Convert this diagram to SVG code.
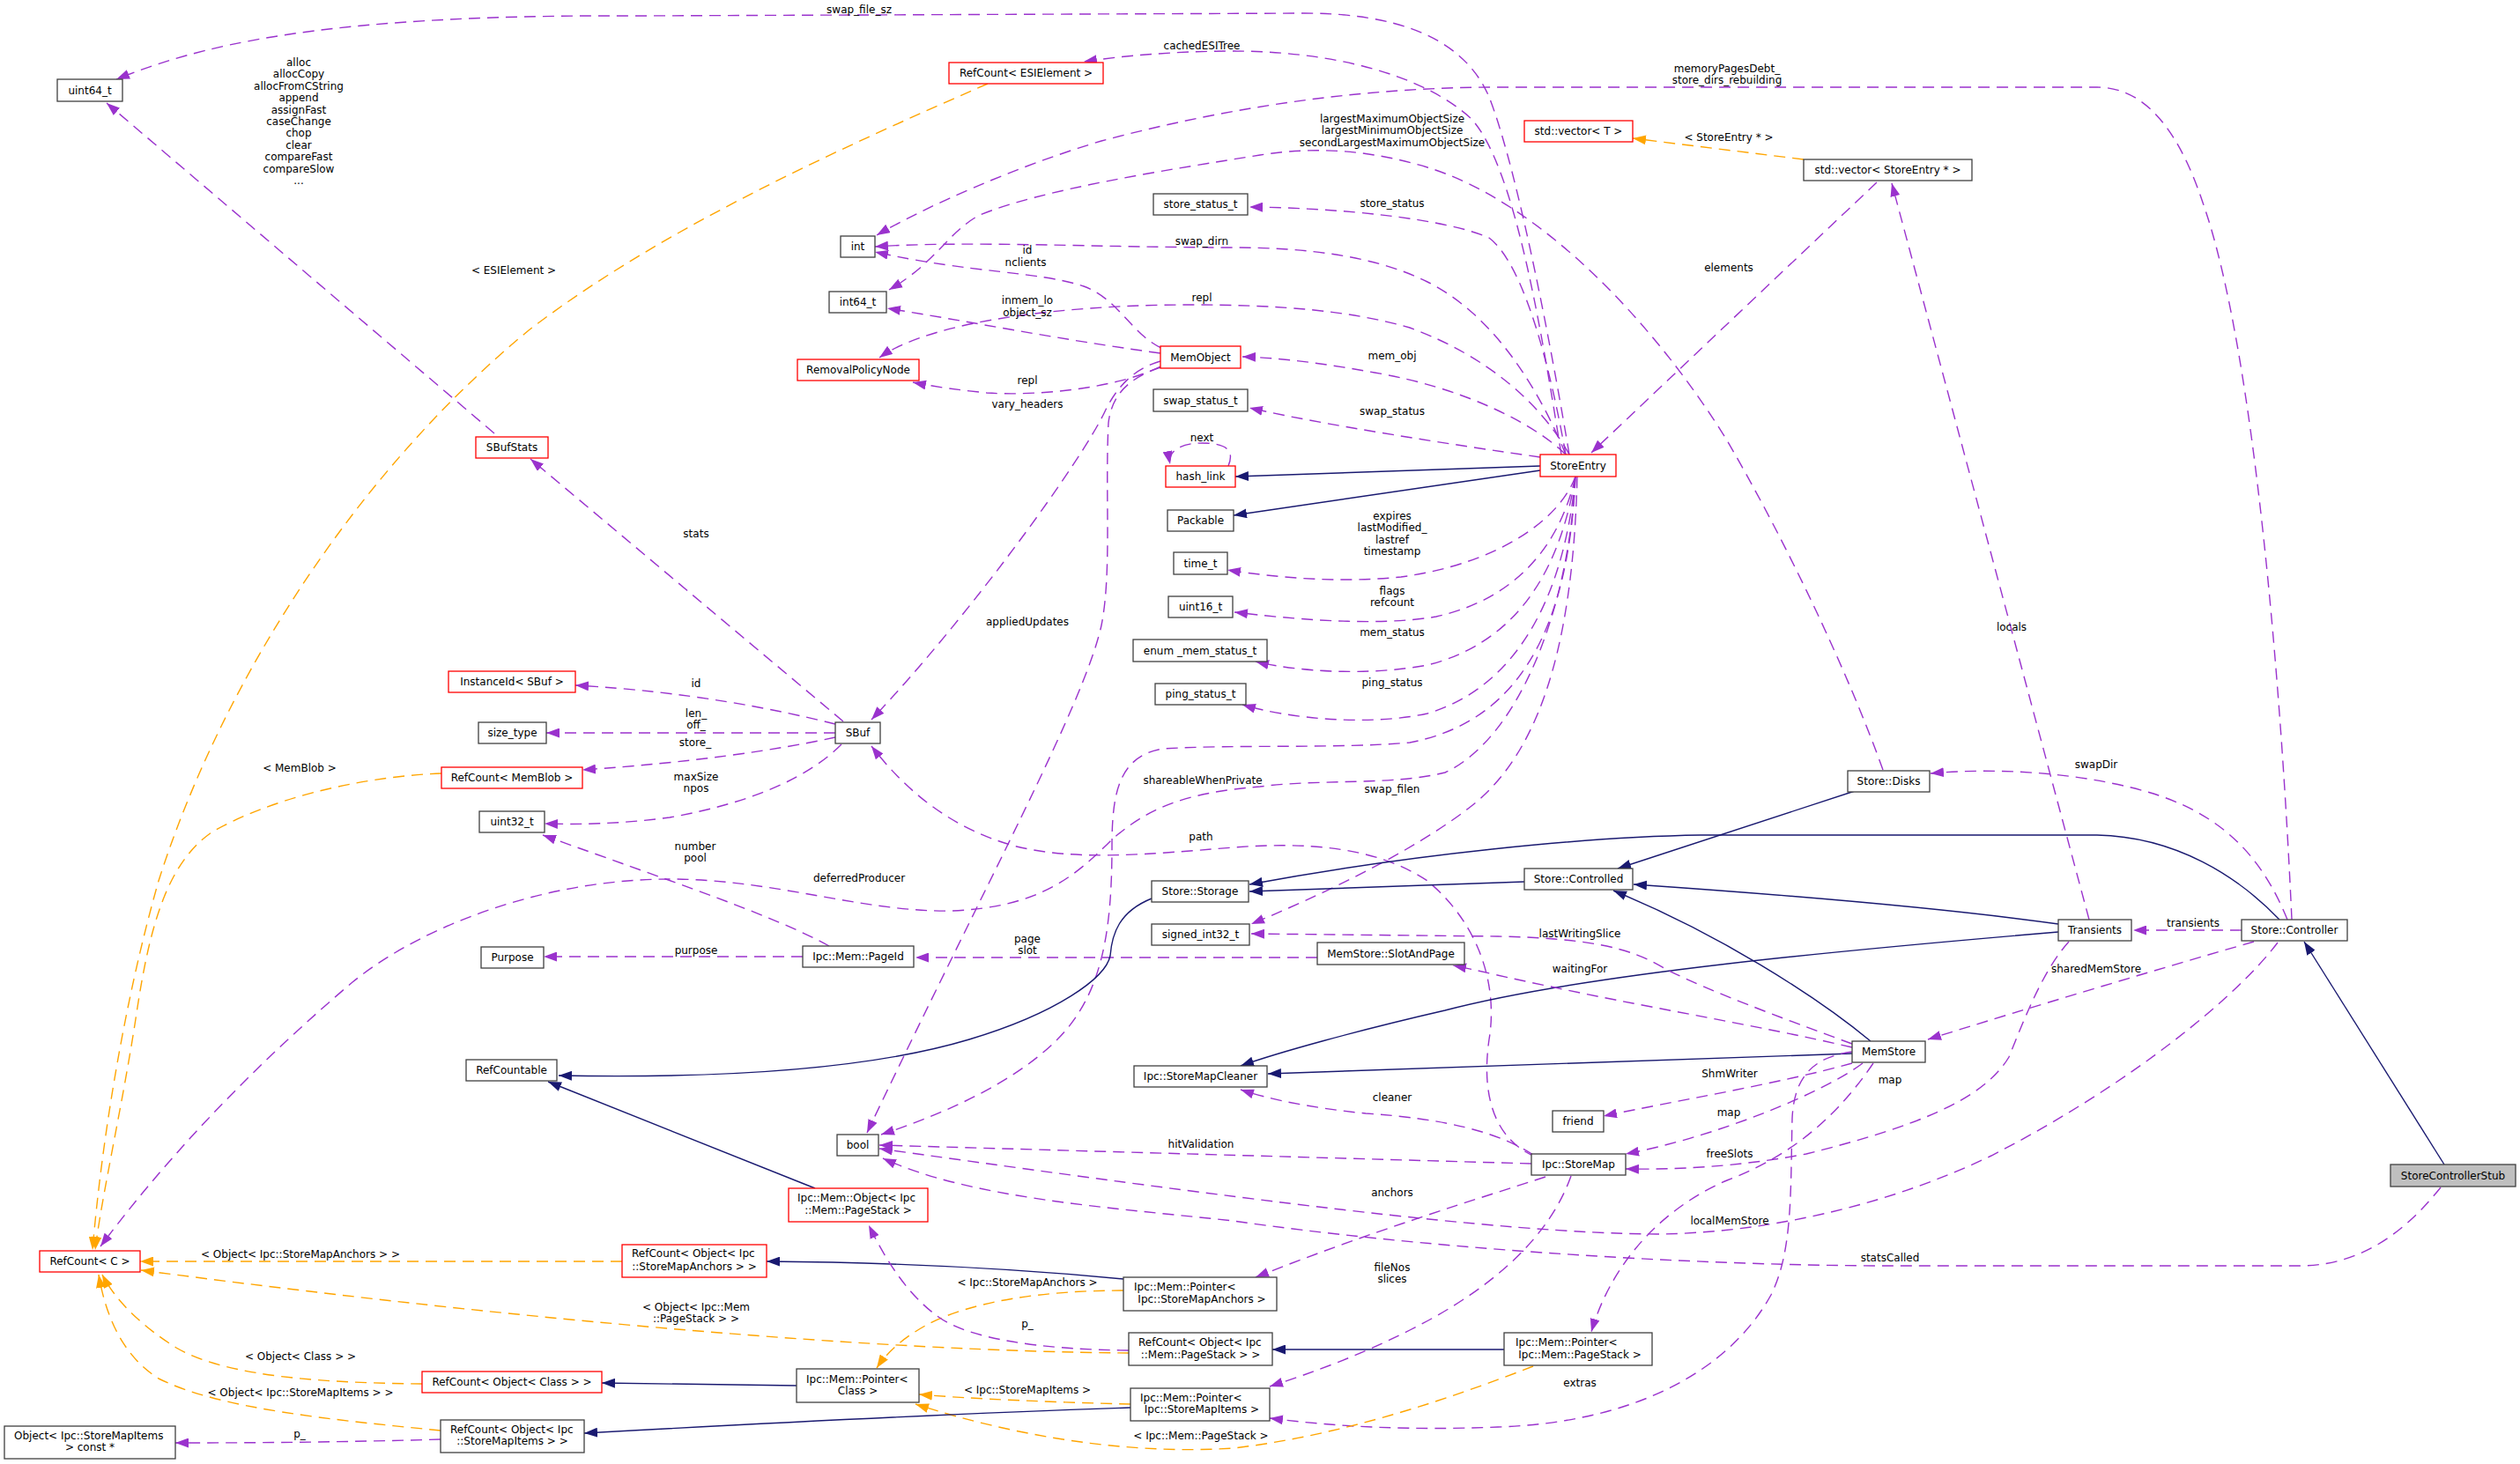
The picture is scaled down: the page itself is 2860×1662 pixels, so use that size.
<svg xmlns="http://www.w3.org/2000/svg" width="2860" height="1662" viewBox="0 0 2860 1662">
<defs>
<style>
text{font-family:"DejaVu Sans","Liberation Sans",sans-serif;font-size:12px;fill:#000}
.c{text-anchor:middle}
.n rect{fill:#fff;stroke:#404040;stroke-width:1.3}
.n.r rect{stroke:#ff0000}
.n.s rect{fill:#bfbfbf}
.e path{fill:none;stroke-width:1.4}
.e .u{stroke:#9a32cd;stroke-dasharray:13,8;marker-end:url(#ap)}
.e .t{stroke:#ffa500;stroke-dasharray:13,8;marker-end:url(#ao)}
.e .i{stroke:#191970;marker-end:url(#an)}
</style>
<marker id="ap" viewBox="0 0 15 11" refX="15" refY="5.5" markerWidth="15" markerHeight="11" markerUnits="userSpaceOnUse" orient="auto"><path d="M0,0 L15,5.5 L0,11 z" fill="#9a32cd"/></marker>
<marker id="ao" viewBox="0 0 15 11" refX="15" refY="5.5" markerWidth="15" markerHeight="11" markerUnits="userSpaceOnUse" orient="auto"><path d="M0,0 L15,5.5 L0,11 z" fill="#ffa500"/></marker>
<marker id="an" viewBox="0 0 15 11" refX="15" refY="5.5" markerWidth="15" markerHeight="11" markerUnits="userSpaceOnUse" orient="auto"><path d="M0,0 L15,5.5 L0,11 z" fill="#191970"/></marker>
</defs>
<rect width="2860" height="1662" fill="#fff"/>
<g id="connectors" class="e">
<!-- StoreEntry uses -->
<path class="u" d="M1781,516 C1765,420 1725,200 1690,110 C1660,40 1580,15 1480,15 L720,18 C350,16 220,55 132,90"/>
<path class="u" d="M1772,516 C1750,380 1720,190 1670,135 C1610,80 1500,58 1400,58 C1330,58 1270,64 1230,70"/>
<path class="u" d="M2601,1044 C2590,800 2560,400 2500,230 C2470,140 2430,99 2380,99 L1700,99 C1550,99 1400,120 1250,160 C1150,190 1050,235 995,267"/>
<path class="u" d="M2137,874 C2100,770 2030,620 1960,500 C1880,370 1750,230 1620,190 C1560,172 1500,165 1430,176 C1330,192 1180,215 1110,245 C1075,265 1060,300 1009,329"/>
<path class="u" d="M1777,516 C1750,450 1700,360 1620,320 C1560,290 1480,281 1400,281 C1250,281 1100,273 993,280"/>
<path class="u" d="M1777,516 C1760,420 1730,300 1690,270 C1640,248 1520,236 1418,235"/>
<path class="u" d="M1777,516 C1740,480 1660,440 1560,423 C1500,412 1450,406 1410,405"/>
<path class="u" d="M1748,519 C1650,505 1500,482 1418,463"/>
<path class="i" d="M1748,529 L1402,541"/>
<path class="i" d="M1748,534 L1400,585"/>
<path class="u" d="M1394,529 C1402,510 1390,503 1364,503 C1340,503 1325,512 1328,527"/>
<path class="u" d="M1788,541 C1770,590 1700,640 1590,655 C1520,662 1450,656 1393,647"/>
<path class="u" d="M1788,541 C1770,620 1720,680 1630,700 C1560,712 1460,702 1401,695"/>
<path class="u" d="M1788,541 C1770,650 1720,730 1620,755 C1550,768 1470,762 1425,751"/>
<path class="u" d="M1788,541 C1775,680 1720,780 1620,810 C1550,825 1460,815 1410,800"/>
<path class="u" d="M1788,541 C1780,720 1720,820 1600,843 C1520,850 1400,845 1320,850 C1270,858 1262,900 1262,960 C1262,1060 1250,1130 1200,1180 C1150,1230 1070,1265 1000,1288"/>
<path class="u" d="M1788,541 C1780,700 1720,840 1640,877 C1580,892 1500,884 1430,893 C1340,900 1300,920 1262,953 C1220,995 1180,1030 1080,1034 C980,1036 880,998 760,998 C620,998 480,1050 400,1115 C300,1200 200,1300 114,1415"/>
<path class="u" d="M1790,541 C1785,750 1740,860 1670,915 C1600,970 1490,1020 1420,1049"/>
<path class="u" d="M1781,516 C1750,460 1690,405 1600,372 C1530,352 1450,346 1350,346 C1220,346 1060,362 998,406"/>
<!-- MemObject uses -->
<path class="u" d="M1318,395 C1285,380 1270,340 1230,325 C1180,308 1100,310 993,286"/>
<path class="u" d="M1317,401 C1200,385 1100,365 1007,350"/>
<path class="u" d="M1317,416 C1270,440 1180,450 1120,446 C1090,443 1060,439 1036,434"/>
<path class="u" d="M1317,410 C1290,418 1270,435 1255,465 C1230,520 1100,700 989,817"/>
<path class="u" d="M1317,417 C1285,428 1262,445 1258,480 C1254,560 1262,650 1250,710 C1230,800 1120,1000 984,1286"/>
<!-- vector -->
<path class="u" d="M2130,207 L1806,514"/>
<path class="t" d="M2047,181 L1853,157"/>
<!-- SBuf -->
<path class="u" d="M957,819 L602,521"/>
<path class="u" d="M561,492 L121,117"/>
<path class="u" d="M948,822 C880,805 780,785 653,778"/>
<path class="u" d="M948,832 L620,832"/>
<path class="u" d="M948,837 C880,852 780,866 661,874"/>
<path class="u" d="M955,845 C920,880 860,910 760,928 C700,936 650,936 618,935"/>
<path class="u" d="M941,1074 C880,1040 760,1000 616,948"/>
<path class="u" d="M911,1086 L617,1086"/>
<path class="u" d="M1495,1087 L1039,1087"/>
<!-- StoreMap path -->
<path class="u" d="M1742,1313 C1700,1295 1680,1250 1690,1180 C1700,1120 1680,1050 1620,1000 C1560,960 1480,956 1400,962 C1300,970 1220,978 1150,960 C1080,940 1030,900 989,847"/>
<!-- inheritance -->
<path class="i" d="M2587,1044 C2540,995 2470,950 2380,948 L1930,948 C1800,950 1600,970 1418,1004"/>
<path class="i" d="M1730,1001 L1418,1012"/>
<path class="i" d="M2105,898 L1836,986"/>
<path class="i" d="M2336,1049 C2200,1030 2000,1014 1854,1004"/>
<path class="i" d="M2336,1058 C2100,1078 1800,1105 1640,1147 C1540,1170 1450,1195 1408,1210"/>
<path class="i" d="M2123,1182 C2060,1130 1950,1060 1831,1011"/>
<path class="i" d="M2102,1196 L1439,1219"/>
<path class="i" d="M1307,1020 C1270,1035 1262,1060 1260,1085 C1255,1110 1200,1150 1100,1180 C1000,1210 850,1225 634,1221"/>
<path class="i" d="M925,1349 L622,1228"/>
<path class="i" d="M2774,1322 L2615,1069"/>
<!-- Controller / Transients / MemStore uses -->
<path class="u" d="M2596,1044 C2570,980 2530,930 2450,903 C2380,880 2280,870 2191,878"/>
<path class="u" d="M2371,1044 L2147,208"/>
<path class="u" d="M2544,1056 L2421,1056"/>
<path class="u" d="M2558,1069 C2450,1100 2300,1145 2188,1180"/>
<path class="u" d="M2585,1070 C2540,1130 2420,1230 2260,1312 C2140,1370 2000,1400 1880,1401 C1700,1400 1400,1360 998,1304"/>
<path class="u" d="M2770,1348 C2740,1385 2690,1437 2610,1437 L2150,1437 C1900,1437 1600,1415 1400,1386 C1250,1370 1100,1360 1002,1315"/>
<path class="u" d="M1738,1321 L998,1300"/>
<path class="u" d="M1740,1311 C1700,1285 1640,1270 1550,1264 C1490,1258 1440,1248 1408,1237"/>
<path class="u" d="M1754,1336 C1680,1360 1550,1400 1425,1450"/>
<path class="u" d="M1783,1335 C1760,1400 1700,1460 1600,1510 C1540,1540 1490,1558 1441,1574"/>
<path class="u" d="M2102,1207 C2020,1230 1900,1250 1820,1267"/>
<path class="u" d="M2114,1207 C2070,1240 1950,1290 1845,1310"/>
<path class="u" d="M2348,1069 C2320,1100 2300,1150 2280,1200 C2250,1250 2170,1280 2050,1310 C1970,1325 1900,1328 1845,1327"/>
<path class="u" d="M2126,1207 C2090,1260 2040,1310 1960,1340 C1890,1370 1830,1430 1806,1512"/>
<path class="u" d="M2102,1194 C2060,1200 2036,1220 2034,1270 C2032,1350 2035,1420 2010,1470 C1960,1560 1850,1615 1700,1620 C1600,1624 1520,1620 1441,1610"/>
<path class="u" d="M2102,1185 C2020,1155 1940,1125 1890,1100 C1850,1075 1800,1065 1700,1063 L1420,1060"/>
<path class="u" d="M2102,1189 C2000,1165 1850,1140 1760,1120 C1710,1110 1680,1102 1649,1096"/>
<!-- Ipc pointers -->
<path class="i" d="M1275,1452 C1150,1440 1000,1433 870,1432"/>
<path class="t" d="M1275,1465 C1180,1465 1100,1478 1050,1505 C1020,1522 1005,1538 995,1553"/>
<path class="u" d="M1281,1533 C1180,1532 1100,1520 1065,1495 C1030,1470 1005,1430 986,1391"/>
<path class="t" d="M1281,1536 C1000,1534 600,1500 160,1442"/>
<path class="i" d="M1707,1532 L1444,1532"/>
<path class="t" d="M1740,1551 C1640,1590 1520,1630 1400,1644 C1280,1652 1150,1630 1039,1594"/>
<path class="t" d="M1283,1594 C1200,1592 1100,1588 1043,1583"/>
<path class="i" d="M1283,1598 C1100,1604 900,1614 663,1627"/>
<path class="i" d="M904,1573 L683,1570"/>
<path class="u" d="M500,1634 C400,1637 300,1638 199,1638"/>
<path class="t" d="M500,1624 C380,1612 250,1600 180,1565 C140,1540 120,1495 112,1447"/>
<path class="t" d="M479,1571 C380,1570 260,1565 200,1530 C160,1505 130,1475 116,1447"/>
<path class="t" d="M706,1432 L159,1432"/>
<path class="t" d="M1121,95 C950,170 750,260 600,375 C400,540 250,780 180,1000 C140,1140 115,1300 105,1419"/>
<path class="t" d="M501,878 C400,882 300,910 240,945 C190,980 170,1050 155,1150 C140,1250 115,1360 108,1419"/>
<!-- edge labels -->
<text class="c" x="975" y="15">swap_file_sz</text>
<text class="c" x="1364" y="56">cachedESITree</text>
<text class="c" x="1960" y="82">memoryPagesDebt_</text>
<text class="c" x="1960" y="95">store_dirs_rebuilding</text>
<text class="c" x="339" y="75">alloc</text>
<text class="c" x="339" y="88.4">allocCopy</text>
<text class="c" x="339" y="101.8">allocFromCString</text>
<text class="c" x="339" y="115.2">append</text>
<text class="c" x="339" y="128.6">assignFast</text>
<text class="c" x="339" y="142">caseChange</text>
<text class="c" x="339" y="155.4">chop</text>
<text class="c" x="339" y="168.8">clear</text>
<text class="c" x="339" y="182.2">compareFast</text>
<text class="c" x="339" y="195.6">compareSlow</text>
<text class="c" x="339" y="209">...</text>
<text class="c" x="1580" y="139">largestMaximumObjectSize</text>
<text class="c" x="1580" y="152">largestMinimumObjectSize</text>
<text class="c" x="1580" y="166">secondLargestMaximumObjectSize</text>
<text class="c" x="1962" y="160">&lt; StoreEntry * &gt;</text>
<text class="c" x="1580" y="235">store_status</text>
<text class="c" x="1364" y="278">swap_dirn</text>
<text class="c" x="1166" y="288">id</text>
<text class="c" x="1164" y="301.5">nclients</text>
<text class="c" x="1962" y="308">elements</text>
<text class="c" x="583" y="311">&lt; ESIElement &gt;</text>
<text class="c" x="1166" y="345">inmem_lo</text>
<text class="c" x="1166" y="358.5">object_sz</text>
<text class="c" x="1364" y="342">repl</text>
<text class="c" x="1580" y="408">mem_obj</text>
<text class="c" x="1166" y="436">repl</text>
<text class="c" x="1166" y="463">vary_headers</text>
<text class="c" x="1580" y="471">swap_status</text>
<text class="c" x="1364" y="501">next</text>
<text class="c" x="1580" y="590">expires</text>
<text class="c" x="1580" y="603.4">lastModified_</text>
<text class="c" x="1580" y="616.8">lastref</text>
<text class="c" x="1580" y="630.2">timestamp</text>
<text class="c" x="790" y="610">stats</text>
<text class="c" x="1580" y="675">flags</text>
<text class="c" x="1580" y="688.4">refcount</text>
<text class="c" x="1166" y="710">appliedUpdates</text>
<text class="c" x="2283" y="716">locals</text>
<text class="c" x="1580" y="722">mem_status</text>
<text class="c" x="1580" y="779">ping_status</text>
<text class="c" x="790" y="780">id</text>
<text class="c" x="790" y="814">len_</text>
<text class="c" x="790" y="827.4">off_</text>
<text class="c" x="789" y="847">store_</text>
<text class="c" x="340" y="876">&lt; MemBlob &gt;</text>
<text class="c" x="2379" y="872">swapDir</text>
<text class="c" x="790" y="886">maxSize</text>
<text class="c" x="790" y="899.4">npos</text>
<text class="c" x="1365" y="890">shareableWhenPrivate</text>
<text class="c" x="1580" y="900">swap_filen</text>
<text class="c" x="1363" y="954">path</text>
<text class="c" x="789" y="965">number</text>
<text class="c" x="789" y="978.4">pool</text>
<text class="c" x="975" y="1001">deferredProducer</text>
<text class="c" x="2489" y="1052">transients</text>
<text class="c" x="1793" y="1064">lastWritingSlice</text>
<text class="c" x="1166" y="1070">page</text>
<text class="c" x="1166" y="1083.4">slot</text>
<text class="c" x="790" y="1083">purpose</text>
<text class="c" x="1793" y="1104">waitingFor</text>
<text class="c" x="2379" y="1104">sharedMemStore</text>
<text class="c" x="1963" y="1223">ShmWriter</text>
<text class="c" x="2145" y="1230">map</text>
<text class="c" x="1580" y="1250">cleaner</text>
<text class="c" x="1962" y="1267">map</text>
<text class="c" x="1363" y="1303">hitValidation</text>
<text class="c" x="1963" y="1314">freeSlots</text>
<text class="c" x="1580" y="1358">anchors</text>
<text class="c" x="1963" y="1390">localMemStore</text>
<text class="c" x="341" y="1428">&lt; Object&lt; Ipc::StoreMapAnchors &gt; &gt;</text>
<text class="c" x="2145" y="1432">statsCalled</text>
<text class="c" x="1580" y="1443">fileNos</text>
<text class="c" x="1580" y="1456.4">slices</text>
<text class="c" x="1166" y="1460">&lt; Ipc::StoreMapAnchors &gt;</text>
<text class="c" x="790" y="1488">&lt; Object&lt; Ipc::Mem</text>
<text class="c" x="790" y="1501.4">::PageStack &gt; &gt;</text>
<text class="c" x="1166" y="1507">p_</text>
<text class="c" x="341" y="1544">&lt; Object&lt; Class &gt; &gt;</text>
<text class="c" x="1793" y="1574">extras</text>
<text class="c" x="1166" y="1582">&lt; Ipc::StoreMapItems &gt;</text>
<text class="c" x="341" y="1585">&lt; Object&lt; Ipc::StoreMapItems &gt; &gt;</text>
<text class="c" x="340" y="1632">p_</text>
<text class="c" x="1363" y="1634">&lt; Ipc::Mem::PageStack &gt;</text>
</g>
<g id="nodes">
<g id="n-uint64" class="n"><rect x="65" y="90" width="74" height="25"/><text class="c" x="102" y="106.5">uint64_t</text></g>
<g id="n-refcount-esi" class="n r"><rect x="1077" y="71" width="175" height="24"/><text class="c" x="1164.5" y="87">RefCount&lt; ESIElement &gt;</text></g>
<g id="n-vector-t" class="n r"><rect x="1730" y="137" width="123" height="24"/><text class="c" x="1791.5" y="153">std::vector&lt; T &gt;</text></g>
<g id="n-vector-se" class="n"><rect x="2047" y="181" width="191" height="24"/><text class="c" x="2142.5" y="197">std::vector&lt; StoreEntry * &gt;</text></g>
<g id="n-int" class="n"><rect x="954" y="268" width="39" height="24"/><text class="c" x="973.5" y="284">int</text></g>
<g id="n-int64" class="n"><rect x="941" y="331" width="65" height="24"/><text class="c" x="973.5" y="347">int64_t</text></g>
<g id="n-store-status" class="n"><rect x="1309" y="220" width="107" height="24"/><text class="c" x="1362.5" y="236">store_status_t</text></g>
<g id="n-removal" class="n r"><rect x="905" y="408" width="138" height="24"/><text class="c" x="974" y="424">RemovalPolicyNode</text></g>
<g id="n-memobject" class="n r"><rect x="1317" y="393" width="91" height="25"/><text class="c" x="1362.5" y="409.5">MemObject</text></g>
<g id="n-swap-status" class="n"><rect x="1309" y="442" width="107" height="25"/><text class="c" x="1362.5" y="458.5">swap_status_t</text></g>
<g id="n-hashlink" class="n r"><rect x="1323" y="529" width="79" height="24"/><text class="c" x="1362.5" y="545">hash_link</text></g>
<g id="n-storeentry" class="n r"><rect x="1748" y="516" width="86" height="25"/><text class="c" x="1791" y="532.5">StoreEntry</text></g>
<g id="n-sbufstats" class="n r"><rect x="540" y="496" width="82" height="24"/><text class="c" x="581" y="512">SBufStats</text></g>
<g id="n-packable" class="n"><rect x="1325" y="579" width="75" height="24"/><text class="c" x="1362.5" y="595">Packable</text></g>
<g id="n-time" class="n"><rect x="1332" y="627" width="61" height="25"/><text class="c" x="1362.5" y="643.5">time_t</text></g>
<g id="n-uint16" class="n"><rect x="1326" y="677" width="73" height="24"/><text class="c" x="1362.5" y="693">uint16_t</text></g>
<g id="n-memstatus" class="n"><rect x="1286" y="726" width="152" height="25"/><text class="c" x="1362" y="742.5">enum _mem_status_t</text></g>
<g id="n-pingstatus" class="n"><rect x="1311" y="776" width="103" height="24"/><text class="c" x="1362.5" y="792">ping_status_t</text></g>
<g id="n-instanceid" class="n r"><rect x="509" y="762" width="144" height="24"/><text class="c" x="581" y="778">InstanceId&lt; SBuf &gt;</text></g>
<g id="n-sizetype" class="n"><rect x="543" y="820" width="77" height="24"/><text class="c" x="581.5" y="836">size_type</text></g>
<g id="n-sbuf" class="n"><rect x="948" y="820" width="51" height="24"/><text class="c" x="973.5" y="836">SBuf</text></g>
<g id="n-refcount-memblob" class="n r"><rect x="501" y="871" width="160" height="24"/><text class="c" x="581" y="887">RefCount&lt; MemBlob &gt;</text></g>
<g id="n-disks" class="n"><rect x="2097" y="875" width="93" height="24"/><text class="c" x="2143.5" y="891">Store::Disks</text></g>
<g id="n-uint32" class="n"><rect x="544" y="921" width="74" height="24"/><text class="c" x="581" y="937">uint32_t</text></g>
<g id="n-storage" class="n"><rect x="1307" y="1000" width="110" height="24"/><text class="c" x="1362" y="1016">Store::Storage</text></g>
<g id="n-controlled" class="n"><rect x="1730" y="986" width="123" height="24"/><text class="c" x="1791.5" y="1002">Store::Controlled</text></g>
<g id="n-transients" class="n"><rect x="2336" y="1044" width="83" height="24"/><text class="c" x="2377.5" y="1060">Transients</text></g>
<g id="n-controller" class="n"><rect x="2544" y="1044" width="120" height="24"/><text class="c" x="2604" y="1060">Store::Controller</text></g>
<g id="n-sint32" class="n"><rect x="1307" y="1049" width="111" height="24"/><text class="c" x="1362.5" y="1065">signed_int32_t</text></g>
<g id="n-slotandpage" class="n"><rect x="1495" y="1070" width="167" height="25"/><text class="c" x="1578.5" y="1086.5">MemStore::SlotAndPage</text></g>
<g id="n-purpose" class="n"><rect x="546" y="1075" width="71" height="24"/><text class="c" x="581.5" y="1091">Purpose</text></g>
<g id="n-pageid" class="n"><rect x="911" y="1074" width="126" height="24"/><text class="c" x="974" y="1090">Ipc::Mem::PageId</text></g>
<g id="n-memstore" class="n"><rect x="2102" y="1182" width="83" height="24"/><text class="c" x="2143.5" y="1198">MemStore</text></g>
<g id="n-refcountable" class="n"><rect x="529" y="1203" width="103" height="24"/><text class="c" x="580.5" y="1219">RefCountable</text></g>
<g id="n-cleaner" class="n"><rect x="1287" y="1210" width="151" height="24"/><text class="c" x="1362.5" y="1226">Ipc::StoreMapCleaner</text></g>
<g id="n-friend" class="n"><rect x="1762" y="1261" width="58" height="24"/><text class="c" x="1791" y="1277">friend</text></g>
<g id="n-bool" class="n"><rect x="950" y="1288" width="47" height="24"/><text class="c" x="973.5" y="1304">bool</text></g>
<g id="n-storemap" class="n"><rect x="1738" y="1310" width="107" height="24"/><text class="c" x="1791.5" y="1326">Ipc::StoreMap</text></g>
<g id="n-stub" class="n s"><rect x="2713" y="1322" width="142" height="25"/><text class="c" x="2784" y="1338.5">StoreControllerStub</text></g>
<g id="n-memobj-pagestack" class="n r"><rect x="895" y="1349" width="158" height="38"/><text x="905" y="1364">Ipc::Mem::Object&lt; Ipc</text><text class="c" x="974" y="1378">::Mem::PageStack &gt;</text></g>
<g id="n-refcount-c" class="n r"><rect x="45" y="1420" width="114" height="24"/><text class="c" x="102" y="1436">RefCount&lt; C &gt;</text></g>
<g id="n-refcount-anchors" class="n r"><rect x="706" y="1413" width="164" height="37"/><text x="717" y="1427">RefCount&lt; Object&lt; Ipc</text><text class="c" x="788" y="1442">::StoreMapAnchors &gt; &gt;</text></g>
<g id="n-pointer-anchors" class="n"><rect x="1275" y="1450" width="174" height="38"/><text x="1287" y="1465">Ipc::Mem::Pointer&lt;</text><text class="c" x="1364" y="1479">Ipc::StoreMapAnchors &gt;</text></g>
<g id="n-refcount-pagestack" class="n"><rect x="1281" y="1513" width="163" height="37"/><text x="1292" y="1528">RefCount&lt; Object&lt; Ipc</text><text class="c" x="1362.5" y="1542">::Mem::PageStack &gt; &gt;</text></g>
<g id="n-pointer-pagestack" class="n"><rect x="1707" y="1513" width="168" height="37"/><text x="1720" y="1528">Ipc::Mem::Pointer&lt;</text><text class="c" x="1793" y="1542">Ipc::Mem::PageStack &gt;</text></g>
<g id="n-refcount-class" class="n r"><rect x="479" y="1557" width="204" height="24"/><text class="c" x="581" y="1573">RefCount&lt; Object&lt; Class &gt; &gt;</text></g>
<g id="n-pointer-class" class="n"><rect x="904" y="1554" width="139" height="38"/><text x="915" y="1570">Ipc::Mem::Pointer&lt;</text><text class="c" x="973.5" y="1583">Class &gt;</text></g>
<g id="n-pointer-items" class="n"><rect x="1283" y="1576" width="158" height="37"/><text x="1294" y="1591">Ipc::Mem::Pointer&lt;</text><text class="c" x="1364" y="1604">Ipc::StoreMapItems &gt;</text></g>
<g id="n-refcount-items" class="n"><rect x="500" y="1612" width="163" height="37"/><text x="511" y="1627">RefCount&lt; Object&lt; Ipc</text><text class="c" x="581.5" y="1640">::StoreMapItems &gt; &gt;</text></g>
<g id="n-object-items" class="n"><rect x="5" y="1619" width="194" height="37"/><text x="16" y="1634">Object&lt; Ipc::StoreMapItems</text><text class="c" x="102" y="1647">&gt; const *</text></g>
</g>
</svg>
